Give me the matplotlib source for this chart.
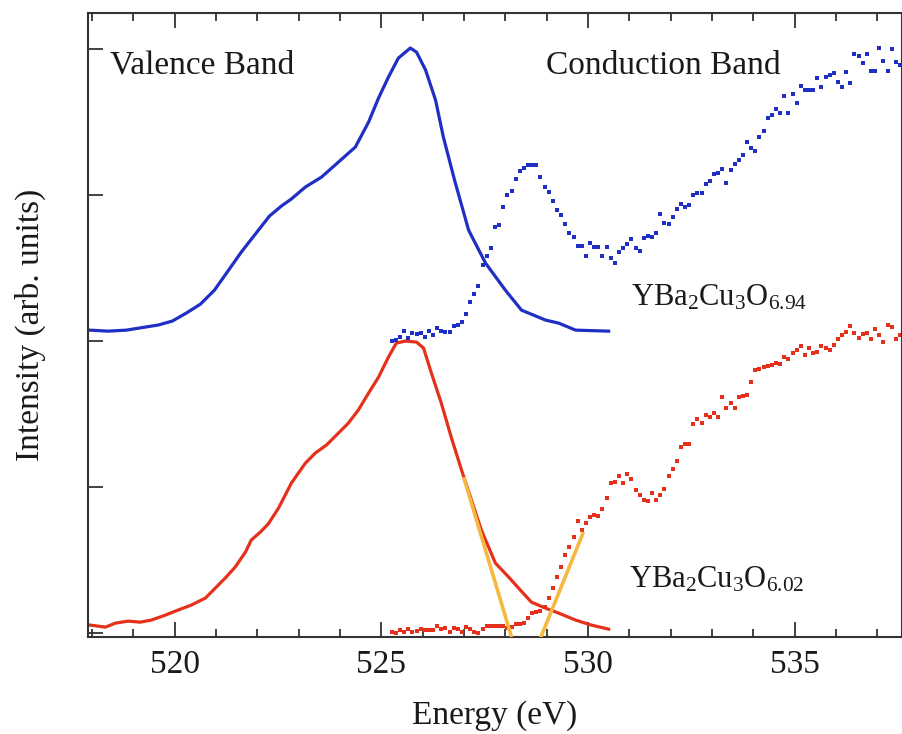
import matplotlib
matplotlib.use("Agg")
import matplotlib.pyplot as plt
from matplotlib.ticker import MultipleLocator

plt.rcParams['font.family'] = ['Liberation Serif', 'DejaVu Serif']
plt.rcParams['mathtext.fontset'] = 'custom'
plt.rcParams['mathtext.rm'] = 'Liberation Serif'

# valence band (emission), solid curves
vb_energy_694 = [517.93, 518.39, 518.83, 519.29, 519.60, 519.94, 520.28, 520.62, 520.96, 521.27,
                 521.61, 521.95, 522.29, 522.58, 522.82, 523.16, 523.55, 523.96, 524.37, 524.69,
                 524.93, 525.17, 525.41, 525.70, 525.85, 526.07, 526.31, 526.50, 526.77, 527.11,
                 527.52, 528.00, 528.39, 528.97, 529.29, 529.70, 530.50]
vb_int_694 = [2.075, 2.068, 2.075, 2.096, 2.110, 2.137, 2.192, 2.253, 2.349, 2.473,
              2.610, 2.733, 2.856, 2.925, 2.973, 3.055, 3.123, 3.226, 3.329, 3.500,
              3.664, 3.808, 3.938, 4.007, 3.979, 3.856, 3.651, 3.397, 3.103, 2.760,
              2.534, 2.349, 2.212, 2.144, 2.123, 2.075, 2.068]

vb_energy_602 = [517.95, 518.32, 518.56, 518.87, 519.16, 519.43, 519.77, 520.08, 520.40, 520.74,
                 520.98, 521.22, 521.46, 521.71, 521.85, 522.07, 522.26, 522.51, 522.82, 523.16,
                 523.40, 523.67, 523.96, 524.20, 524.44, 524.69, 524.93, 525.17, 525.36, 525.58,
                 525.85, 526.02, 526.21, 526.45, 526.69, 526.94, 527.18, 527.42, 527.76, 528.08,
                 528.32, 528.63, 528.97, 529.29, 529.70, 530.08, 530.50]
vb_int_602 = [0.055, 0.041, 0.068, 0.082, 0.075, 0.089, 0.123, 0.158, 0.192, 0.240,
              0.308, 0.377, 0.452, 0.555, 0.637, 0.692, 0.747, 0.856, 1.027, 1.164,
              1.233, 1.288, 1.370, 1.438, 1.527, 1.644, 1.753, 1.890, 1.986, 2.000,
              1.993, 1.952, 1.781, 1.575, 1.342, 1.116, 0.911, 0.705, 0.479, 0.384,
              0.308, 0.212, 0.171, 0.137, 0.089, 0.055, 0.027]

# conduction band (absorption), dotted
cb_energy = [525.25, 525.35, 525.45, 525.55, 525.65, 525.75, 525.85, 525.95, 526.05, 526.15,
             526.25, 526.35, 526.45, 526.55, 526.65, 526.75, 526.85, 526.95, 527.05, 527.15,
             527.25, 527.35, 527.45, 527.55, 527.65, 527.75, 527.85, 527.95, 528.05, 528.15,
             528.25, 528.35, 528.45, 528.55, 528.65, 528.75, 528.85, 528.95, 529.05, 529.15,
             529.25, 529.35, 529.45, 529.55, 529.65, 529.75, 529.85, 529.95, 530.05, 530.15,
             530.25, 530.35, 530.45, 530.55, 530.65, 530.75, 530.85, 530.95, 531.05, 531.15,
             531.25, 531.35, 531.45, 531.55, 531.65, 531.75, 531.85, 531.95, 532.05, 532.15,
             532.25, 532.35, 532.45, 532.55, 532.65, 532.75, 532.85, 532.95, 533.05, 533.15,
             533.25, 533.35, 533.45, 533.55, 533.65, 533.75, 533.85, 533.95, 534.05, 534.15,
             534.25, 534.35, 534.45, 534.55, 534.65, 534.75, 534.85, 534.95, 535.05, 535.15,
             535.25, 535.35, 535.45, 535.55, 535.65, 535.75, 535.85, 535.95, 536.05, 536.15,
             536.25, 536.35, 536.45, 536.55, 536.65, 536.75, 536.85, 536.95, 537.05, 537.15,
             537.25, 537.35, 537.45, 537.55]
cb_int_694 = [2.000, 2.007, 2.027, 2.068, 2.021, 2.055, 2.048, 2.055, 2.027, 2.068,
              2.041, 2.089, 2.068, 2.062, 2.062, 2.103, 2.110, 2.130, 2.185, 2.267,
              2.322, 2.377, 2.521, 2.582, 2.637, 2.781, 2.795, 2.918, 3.000, 3.027,
              3.110, 3.164, 3.185, 3.205, 3.205, 3.205, 3.123, 3.055, 3.021, 2.959,
              2.897, 2.863, 2.801, 2.740, 2.712, 2.651, 2.651, 2.582, 2.671, 2.644,
              2.644, 2.582, 2.644, 2.568, 2.534, 2.610, 2.637, 2.664, 2.699, 2.637,
              2.616, 2.705, 2.719, 2.712, 2.740, 2.870, 2.808, 2.801, 2.849, 2.904,
              2.938, 2.918, 2.932, 3.000, 3.014, 3.014, 3.075, 3.096, 3.144, 3.151,
              3.178, 3.082, 3.171, 3.212, 3.240, 3.274, 3.363, 3.322, 3.301, 3.397,
              3.438, 3.527, 3.548, 3.589, 3.562, 3.678, 3.562, 3.692, 3.630, 3.747,
              3.719, 3.719, 3.719, 3.801, 3.740, 3.808, 3.822, 3.836, 3.774, 3.740,
              3.842, 3.767, 3.966, 3.952, 3.904, 3.966, 3.849, 3.849, 4.007, 3.918,
              3.849, 4.000, 3.911, 3.890]
cb_int_602 = [0.007, 0.000, 0.021, 0.007, 0.027, 0.007, 0.014, 0.027, 0.021, 0.021,
              0.021, 0.048, 0.027, 0.034, 0.007, 0.034, 0.027, 0.007, 0.041, 0.027,
              0.007, 0.000, 0.027, 0.048, 0.048, 0.048, 0.048, 0.048, 0.034, 0.041,
              0.062, 0.062, 0.068, 0.103, 0.137, 0.144, 0.151, 0.178, 0.240, 0.308,
              0.384, 0.452, 0.534, 0.589, 0.658, 0.767, 0.705, 0.753, 0.795, 0.808,
              0.801, 0.849, 0.925, 1.027, 1.034, 1.075, 1.027, 1.089, 1.055, 0.979,
              0.945, 0.911, 0.904, 0.959, 0.911, 0.945, 0.986, 1.075, 1.123, 1.178,
              1.274, 1.295, 1.295, 1.432, 1.466, 1.438, 1.493, 1.479, 1.507, 1.479,
              1.616, 1.541, 1.575, 1.541, 1.616, 1.623, 1.630, 1.719, 1.801, 1.808,
              1.822, 1.829, 1.836, 1.849, 1.842, 1.890, 1.877, 1.918, 1.938, 1.966,
              1.904, 1.952, 1.918, 1.925, 1.966, 1.952, 1.938, 1.973, 2.014, 2.041,
              2.062, 2.103, 2.055, 2.021, 2.048, 2.055, 2.014, 2.082, 2.041, 1.993,
              2.110, 2.096, 2.014, 2.041]

# leading-edge extrapolations (gap estimate)
edge_vb_energy = [526.99, 528.15]
edge_vb_int = [1.068, -0.027]
edge_cb_energy = [528.85, 529.89]
edge_cb_int = [-0.034, 0.692]

blue = '#1f2fc4'
red = '#e5311b'
gold = '#f5b840'

fig = plt.figure(figsize=(9.03, 7.34), dpi=100)
ax = fig.add_axes([0.0975, 0.1315, 0.9014, 0.8508])

ax.plot(vb_energy_694, vb_int_694, color=blue, lw=2.3, solid_joinstyle='round')
ax.plot(vb_energy_602, vb_int_602, color=red, lw=2.3, solid_joinstyle='round')
ax.plot(cb_energy, cb_int_694, 's', color=blue, ms=2.2, mew=0)
ax.plot(cb_energy, cb_int_602, 's', color=red, ms=2.2, mew=0)
ax.plot(edge_vb_energy, edge_vb_int, color=gold, lw=2.6, solid_capstyle='butt', zorder=3)
ax.plot(edge_cb_energy, edge_cb_int, color=gold, lw=2.6, solid_capstyle='butt', zorder=3)

ax.set_xlim(517.9, 537.6)
ax.set_ylim(-0.03, 4.247)

ax.set_xticks([520, 525, 530, 535])
ax.xaxis.set_minor_locator(MultipleLocator(1))
ax.set_yticks([0, 1, 2, 3, 4])
ax.tick_params(which='both', direction='in', top=True, bottom=True, left=True, right=False,
               labelleft=False, color='#333333', width=1.3)
ax.tick_params(which='major', length=11, labelsize=24, pad=9, labelcolor='#1a1a1a')
ax.tick_params(which='minor', length=6)
for s in ax.spines.values():
    s.set_color('#333333')
    s.set_linewidth(1.5)

ax.set_xlabel('Energy (eV)', fontsize=24, labelpad=14, color='#1a1a1a')
ax.set_ylabel('Intensity (arb. units)', fontsize=24, labelpad=30, color='#1a1a1a')

ax.text(518.44, 3.83, 'Valence Band', fontsize=24, va='baseline', ha='left', color='#1a1a1a')
ax.text(534.66, 3.83, 'Conduction Band', fontsize=24, va='baseline', ha='right', color='#1a1a1a')
ax.text(531.03, 2.247, r'$\mathregular{YBa_2Cu_3O_{6.94}}$', fontsize=22, va='baseline', ha='left',
        color='#1a1a1a')
ax.text(531.0, 0.315, r'$\mathregular{YBa_2Cu_3O_{6.02}}$', fontsize=22, va='baseline', ha='left',
        color='#1a1a1a')

plt.savefig('out.png', dpi=100)
